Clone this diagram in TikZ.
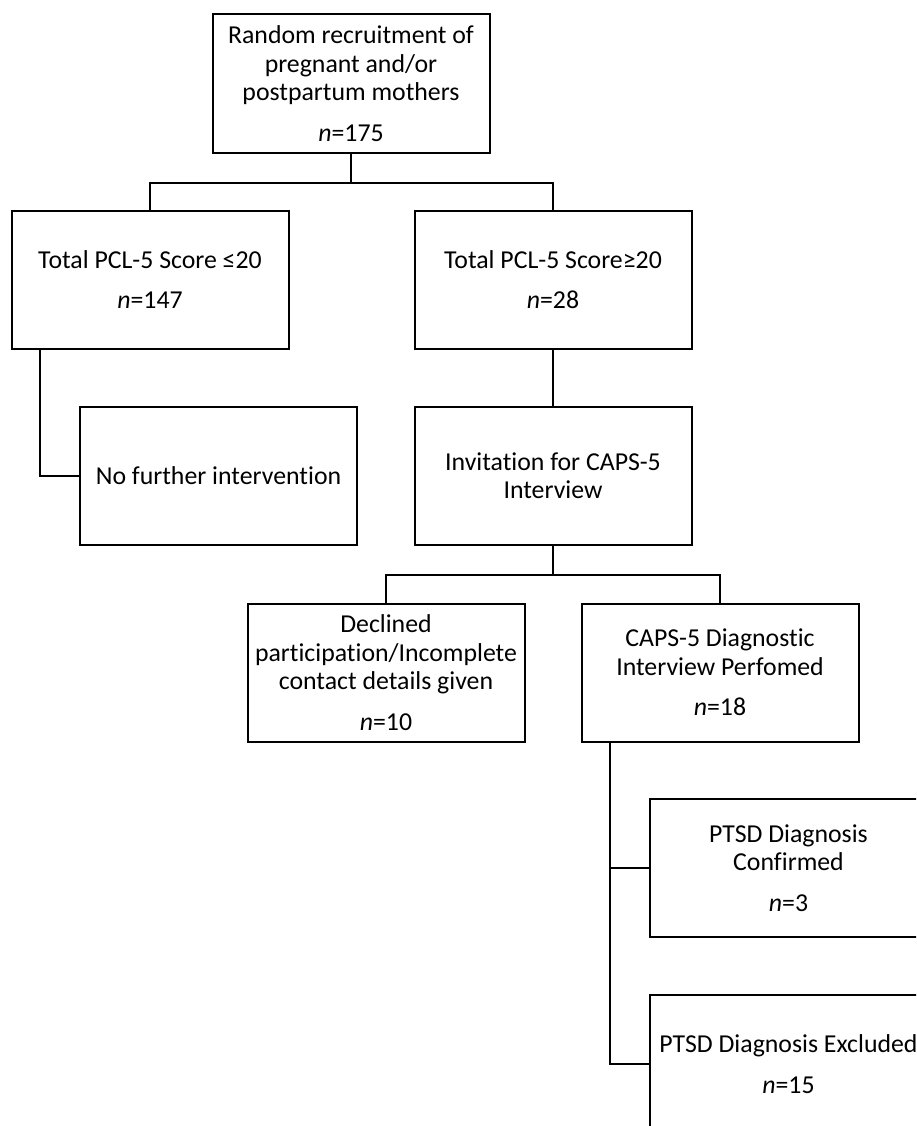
\documentclass[tikz,border=0pt]{standalone}
\usepackage{fontspec}
\setmainfont{Carlito}[Ligatures=NoCommon]

\begin{document}
\begin{tikzpicture}[x=1pt,y=-1pt,
  box/.style={draw,line width=2pt,minimum width=277pt,minimum height=138pt,
    inner sep=2pt,align=center,font=\fontsize{25.8}{28.5}\selectfont},
  link/.style={line width=2pt}]
\useasboundingbox (0,0) rectangle (916,1126);
\clip (0,0) rectangle (916,1126);

\node[box,minimum height=139pt] (recruit) at (351,83.5) {Random recruitment of\\pregnant and/or\\postpartum mothers\\[12pt]\textit{n}=175};

\node[box] (low) at (150,279.5) {Total PCL-5 Score ≤20\\[12pt]\textit{n}=147};
\node[box] (high) at (553,279.5) {Total PCL-5 Score≥20\\[12pt]\textit{n}=28};

\node[box] (nofurther) at (218.5,476) {No further intervention};
\node[box] (invite) at (553,475.5) {Invitation for CAPS-5\\Interview};

\node[box] (declined) at (386,672.5) {Declined\\participation/Incomplete\\contact details given\\[12pt]\textit{n}=10};
\node[box] (caps) at (720,672.5) {CAPS-5 Diagnostic\\Interview Perfomed\\[12pt]\textit{n}=18};

\node[box] (confirmed) at (788.5,868) {PTSD Diagnosis\\Confirmed\\[12pt]\textit{n}=3};
\node[box] (excluded) at (788.5,1064) {PTSD Diagnosis Excluded\\[12pt]\textit{n}=15};

\draw[link] (recruit.south) -- ++(0,29) coordinate (split1);
\draw[link] (low.north) |- (split1) -| (high.north);

\draw[link] ([xshift=-110pt]low.south) |- (nofurther.west);
\draw[link] (high.south) -- (invite.north);

\draw[link] (invite.south) -- ++(0,29) coordinate (split2);
\draw[link] (declined.north) |- (split2) -| (caps.north);

\draw[link] ([xshift=-110pt]caps.south) |- (confirmed.west);
\draw[link] ([xshift=-110pt]caps.south) |- (excluded.west);
\end{tikzpicture}
\end{document}
